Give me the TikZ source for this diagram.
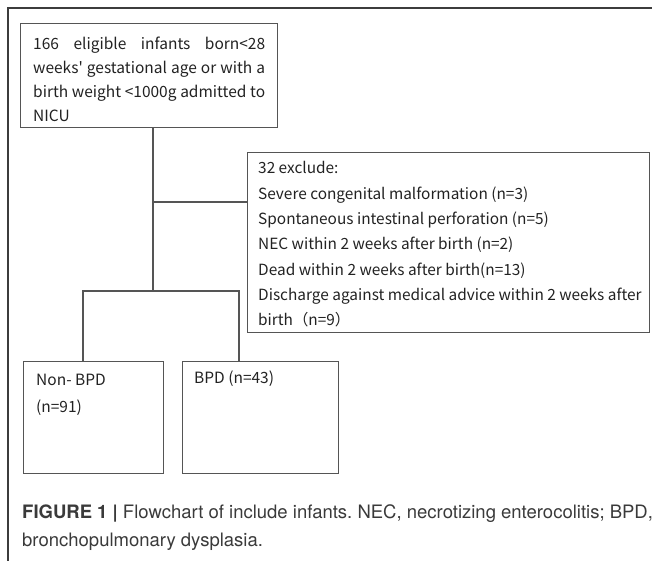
\documentclass[tikz,border=0pt]{standalone}
\usepackage{fontspec}
\newfontfamily\cjkf{Noto Sans CJK SC}
\newfontfamily\capf{TeX Gyre Heros}
\definecolor{frame}{HTML}{3C3C3C}
\definecolor{boxc}{HTML}{555555}
\definecolor{txt}{HTML}{222222}
\definecolor{capc}{HTML}{3A3A3A}
\begin{document}
\begin{tikzpicture}[x=1pt,y=-1pt,
  box/.style={draw=boxc,line width=1.1pt,inner sep=0pt,anchor=north west},
  boxtext/.style={anchor=north west,inner sep=0pt,text=txt,font=\cjkf\fontsize{15.5}{24}\selectfont},
  conn/.style={draw=boxc,line width=1.1pt}]
\useasboundingbox (0,0) rectangle (652,561);
\draw[frame,line width=1.5pt] (652,8) -- (8,8) -- (8,561);
% boxes
\node[box,minimum width=257pt,minimum height=104pt] (top) at (20,23) {};
\node[box,minimum width=402pt,minimum height=180pt] (excl) at (247,152) {};
\node[box,minimum width=140pt,minimum height=112pt] (nonbpd) at (23,361) {};
\node[box,minimum width=156pt,minimum height=112pt] (bpd) at (182,361) {};
% texts
\node[boxtext,text width=232pt,align=justify] (toptext) at (33,32.5)
  {\strut 166 eligible infants born<28\linebreak weeks' gestational age or with a\linebreak birth weight <1000g admitted to\linebreak NICU};
\node[boxtext,align=left,font=\cjkf\fontsize{15.4}{25.3}\selectfont] (excltext) at (258,156)
  {\strut 32 exclude:\\
   Severe congenital malformation (n=3)\\
   Spontaneous intestinal perforation (n=5)\\
   NEC within 2 weeks after birth (n=2)\\
   Dead within 2 weeks after birth(n=13)\\
   Discharge against medical advice within 2 weeks after\\
   birth（n=9）};
\node[boxtext,align=left,font=\cjkf\fontsize{15.5}{27}\selectfont] (nontext) at (36,366)
  {\strut Non- BPD\\(n=91)};
\node[boxtext,align=left] (bpdtext) at (194,366) {\strut BPD (n=43)};
% connectors
\coordinate (split) at (153,291);
\coordinate (mid) at (153,202);
\draw[conn] (top.south -| split) -- (split);
\draw[conn] (mid) -- (mid -| excl.west);
\coordinate (lft) at (83,291);
\coordinate (rgt) at (239,291);
\draw[conn] (nonbpd.north -| lft) -- (lft) -- (rgt) -- (bpd.north -| rgt);
% caption
\node[anchor=north west,inner sep=0pt,text=capc,align=left,
  font=\capf\fontsize{18.5}{28}\selectfont\frenchspacing] (cap) at (22,499)
  {\strut\textbf{FIGURE 1 |} Flowchart of include infants. NEC, necrotizing enterocolitis; BPD,\\
   bronchopulmonary dysplasia.};
\end{tikzpicture}
\end{document}
